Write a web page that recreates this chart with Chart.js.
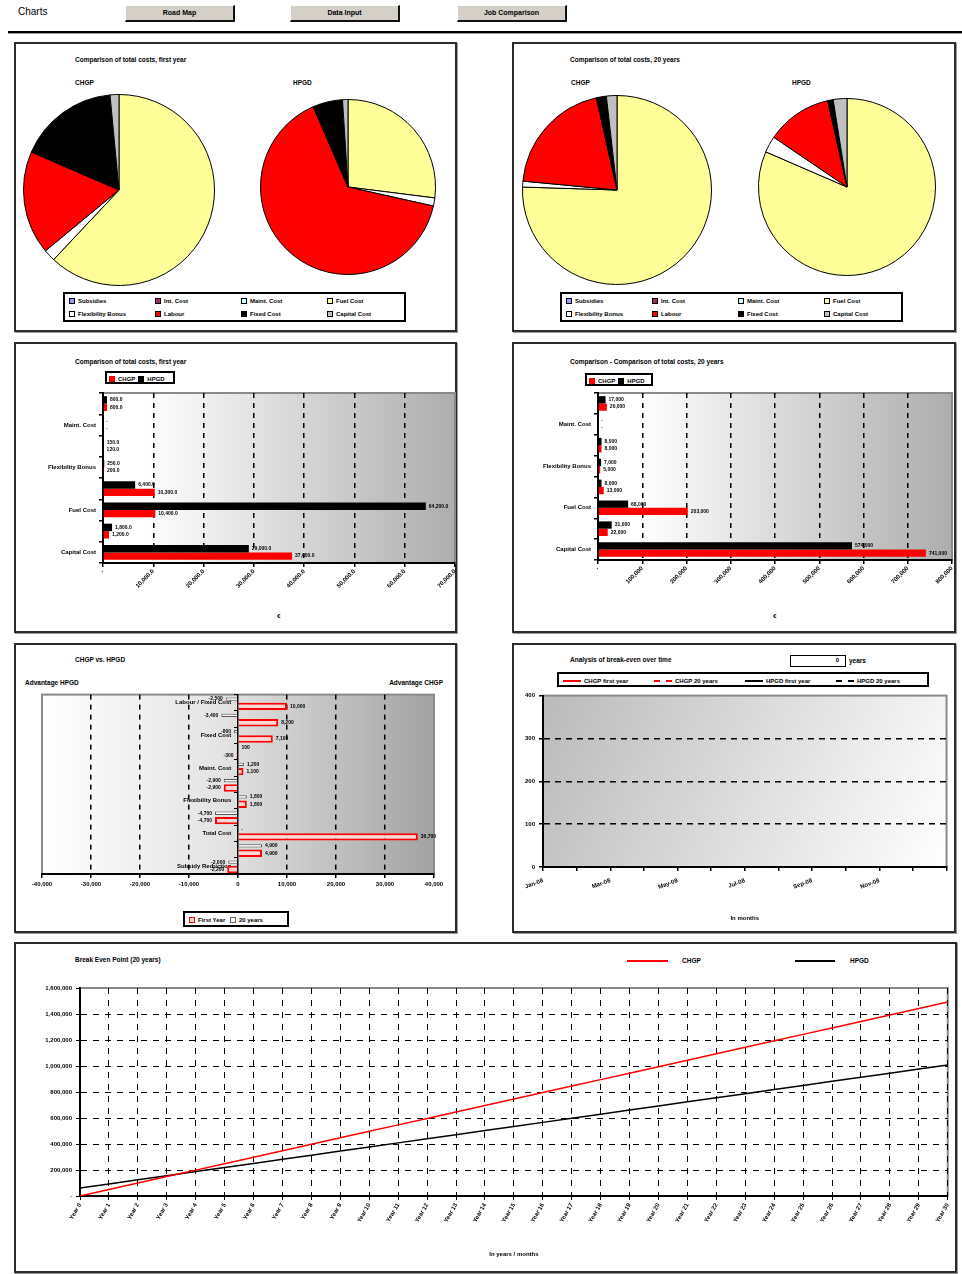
<!DOCTYPE html>
<html lang="en">
<head>
<meta charset="UTF-8">
<title>Charts</title>
<script src="https://cdn.jsdelivr.net/npm/chart.js"></script>
<style>
  body { margin: 0; background: #fff; font-family: "Liberation Sans", Arial, sans-serif; }
  #page { position: relative; width: 962px; height: 1274px; overflow: hidden; }
  .panel { position: absolute; box-sizing: border-box; border: 2px solid #2b2b2b; box-shadow: 1px 1px 0 #9a9a9a; background: #fff; }
  .btn { position: absolute; top: 5px; width: 110px; height: 17px; box-sizing: border-box; background: #d4d0c8;
         border: 1px solid #fff; border-right: 2px solid #111; border-bottom: 2px solid #111;
         font: bold 7px "Liberation Sans", Arial, sans-serif; text-align: center; line-height: 13px; }
  .txt { position: absolute; font: bold 6.5px "Liberation Sans", Arial, sans-serif; white-space: nowrap; line-height: 8px; }
  .box { position: absolute; box-sizing: border-box; border: 2px solid #000; background: #fff;
         font: bold 6px "Liberation Sans", Arial, sans-serif; white-space: nowrap; }
  .key { position: absolute; display: flex; align-items: center; gap: 3px; line-height: 8px; }
  .sw { width: 4px; height: 4px; border: 1px solid #000; }
  .ln { width: 18px; height: 0; border-top: 2px solid #000; }
  .dl { border-top-style: dashed; }
  canvas { position: absolute; }
</style>
</head>
<body>
<div id="page">
  <!-- toolbar -->
  <div style="position:absolute;left:18px;top:6px;font:10px 'Liberation Sans',Arial,sans-serif;">Charts</div>
  <div class="btn" style="left:125px;">Road Map</div>
  <div class="btn" style="left:290px;">Data Input</div>
  <div class="btn" style="left:457px;">Job Comparison</div>
  <div style="position:absolute;left:8px;top:31px;width:954px;height:2px;background:#000;"></div>
  <div style="position:absolute;left:8px;top:33px;width:954px;height:1px;background:#999;"></div>

  <!-- panels -->
  <div class="panel" style="left:14px;top:42px;width:443px;height:290px;"></div>
  <div class="panel" style="left:512px;top:42px;width:444px;height:290px;"></div>
  <div class="panel" style="left:14px;top:342px;width:443px;height:291px;"></div>
  <div class="panel" style="left:512px;top:342px;width:444px;height:291px;"></div>
  <div class="panel" style="left:14px;top:643px;width:443px;height:290px;"></div>
  <div class="panel" style="left:512px;top:643px;width:444px;height:290px;"></div>
  <div class="panel" style="left:14px;top:942px;width:943px;height:331px;"></div>

  <!-- pies, first year -->
  <div class="txt" style="left:75px;top:56px;">Comparison of total costs, first year</div>
  <div class="txt" style="left:75px;top:79px;">CHGP</div>
  <div class="txt" style="left:293px;top:79px;">HPGD</div>
  <canvas id="pieFirstA" width="200" height="200" style="left:19px;top:90px;"></canvas>
  <canvas id="pieFirstB" width="184" height="184" style="left:256px;top:95px;"></canvas>
  <div class="box" id="legFirst" style="left:63px;top:292px;width:343px;height:30px;"></div>

  <!-- pies, 20 years -->
  <div class="txt" style="left:570px;top:56px;">Comparison of total costs, 20 years</div>
  <div class="txt" style="left:571px;top:79px;">CHGP</div>
  <div class="txt" style="left:792px;top:79px;">HPGD</div>
  <canvas id="pieYearsA" width="198" height="198" style="left:518px;top:91px;"></canvas>
  <canvas id="pieYearsB" width="186" height="186" style="left:754px;top:94px;"></canvas>
  <div class="box" id="legYears" style="left:560px;top:292px;width:343px;height:30px;"></div>

  <!-- cost bars -->
  <div class="txt" style="left:75px;top:358px;">Comparison of total costs, first year</div>
  <div class="box" style="left:105px;top:371px;width:70px;height:13px;">
    <div class="key" style="left:2px;top:1.5px;"><div class="sw" style="background:#f00;border-color:#f00"></div>CHGP <div class="sw" style="background:#000"></div>HPGD</div>
  </div>
  <canvas id="barFirst" width="440" height="245" style="left:16px;top:385px;"></canvas>

  <div class="txt" style="left:570px;top:358px;">Comparison - Comparison of total costs, 20 years</div>
  <div class="box" style="left:585px;top:373px;width:68px;height:13px;">
    <div class="key" style="left:2px;top:1.5px;"><div class="sw" style="background:#f00;border-color:#f00"></div>CHGP <div class="sw" style="background:#000"></div>HPGD</div>
  </div>
  <canvas id="barYears" width="441" height="245" style="left:514px;top:385px;"></canvas>

  <!-- difference chart -->
  <div class="txt" style="left:75px;top:656px;">CHGP vs. HPGD</div>
  <div class="txt" style="left:25px;top:679px;">Advantage HPGD</div>
  <div class="txt" style="left:383px;top:679px;width:60px;text-align:right;">Advantage CHGP</div>
  <canvas id="diffChart" width="440" height="215" style="left:16px;top:688px;"></canvas>
  <div class="box" style="left:183px;top:911px;width:106px;height:16px;">
    <div class="key" style="left:4px;top:3px;"><div class="sw" style="background:#ffd6d6;border-color:#f00"></div>First Year&nbsp; <div class="sw" style="background:#fff;border-color:#666"></div>20 years</div>
  </div>

  <!-- trend chart -->
  <div class="txt" style="left:570px;top:656px;">Analysis of break-even over time</div>
  <div class="box" style="left:790px;top:655px;width:56px;height:12px;border-width:1.5px;text-align:right;padding-right:6px;line-height:9px;">0</div>
  <div class="txt" style="left:849px;top:657px;">years</div>
  <div class="box" id="legTrend" style="left:557px;top:672px;width:372px;height:15px;"></div>
  <canvas id="trendChart" width="441" height="240" style="left:514px;top:688px;"></canvas>

  <!-- break even -->
  <div class="txt" style="left:75px;top:956px;">Break Even Point (20 years)</div>
  <div style="position:absolute;left:627px;top:960px;width:41px;height:2px;background:#f00;"></div>
  <div class="txt" style="left:682px;top:957px;">CHGP</div>
  <div style="position:absolute;left:795px;top:960px;width:40px;height:2px;background:#000;"></div>
  <div class="txt" style="left:850px;top:957px;">HPGD</div>
  <canvas id="breakEven" width="940" height="292" style="left:16px;top:978px;"></canvas>
</div>

<script>
// cost items, pie shares in %
const costItems = ['Subsidies', 'Int. Cost', 'Maint. Cost', 'Fuel Cost', 'Flexibility Bonus', 'Labour', 'Fixed Cost', 'Capital Cost'];
const costColors = ['#9999ff', '#993366', '#ccffff', '#ffff99', '#ffffff', '#ff0000', '#000000', '#c0c0c0'];
const pieFirstChgp = [0, 0, 0, 62, 2, 17.5, 17, 1.5];
const pieFirstHpgd = [0, 0, 0, 27, 1.5, 65, 5.5, 1];
const pieYearsChgp = [0, 0, 0, 75.5, 1, 20, 1.7, 1.8];
const pieYearsHpgd = [0, 0, 0, 81.5, 3, 12, 1, 2.5];

// cost bars, top to bottom
const barItems = ['Subsidies', 'Maint. Cost', 'Labour', 'Flexibility Bonus', 'Int. Cost', 'Fuel Cost', 'Fixed Cost', 'Capital Cost'];
const firstHpgd = [800, 0, 150, 250, 6400, 64200, 1800, 29000];
const firstChgp = [800, 0, 120, 200, 10300, 10400, 1200, 37600];
const yearsHpgd = [17000, 0, 8000, 7000, 8000, 68000, 31000, 574000];
const yearsChgp = [20000, 0, 8000, 5000, 13000, 203000, 22000, 741000];

// CHGP minus HPGD
const diffItems = ['Labour / Fixed Cost', 'Subsidies', 'Fixed Cost', 'Int. Cost', 'Maint. Cost', 'Oil Cost',
  'Flexibility Bonus', 'Fuel Cost', 'Total Cost', 'Capital Cost', 'Subsidy Reduction'];
const diffYears = [-2500, -3400, -800, 100, 1200, -2900, 1800, -4700, 0, 4900, -2000];
const diffFirst = [10000, 8200, 7100, -300, 1100, -2900, 1800, -4700, 36700, 4900, -2200];

// trend over time (no values entered yet)
const trendMonths = ['Jan-08', 'Feb-08', 'Mar-08', 'Apr-08', 'May-08', 'Jun-08', 'Jul-08',
  'Aug-08', 'Sep-08', 'Oct-08', 'Nov-08', 'Dec-08', 'Jan-09'];
const trendChgpFirst = [];
const trendChgpYears = [];
const trendHpgdFirst = [];
const trendHpgdYears = [];

// cumulative cost
const beYears = ['Year 0', 'Year 1', 'Year 2', 'Year 3', 'Year 4', 'Year 5', 'Year 6', 'Year 7', 'Year 8',
  'Year 9', 'Year 10', 'Year 11', 'Year 12', 'Year 13', 'Year 14', 'Year 15', 'Year 16', 'Year 17',
  'Year 18', 'Year 19', 'Year 20', 'Year 21', 'Year 22', 'Year 23', 'Year 24', 'Year 25', 'Year 26',
  'Year 27', 'Year 28', 'Year 29', 'Year 30'];
const beChgp = [0, 49700, 99500, 149200, 198900, 248700, 298400, 348100, 397900, 447600, 497300,
  547100, 596800, 646500, 696300, 746000, 795700, 845500, 895200, 944900, 994700, 1044400,
  1094100, 1143900, 1193600, 1243300, 1293100, 1342800, 1392500, 1442300, 1492000];
const beHpgd = [61500, 93100, 124600, 156200, 187700, 219300, 250800, 282400, 313900, 345500, 377000,
  408600, 440100, 471700, 503200, 534800, 566300, 597900, 629400, 661000, 692500, 724100,
  755600, 787200, 818700, 850300, 881800, 913400, 944900, 976500, 1008000];

Chart.defaults.font.family = '"Liberation Sans", Arial, sans-serif';
Chart.defaults.font.size = 6;
Chart.defaults.font.weight = 'bold';
Chart.defaults.color = '#000';
Chart.defaults.animation = false;
Chart.defaults.events = [];
Chart.defaults.plugins.legend.display = false;
Chart.defaults.plugins.tooltip.enabled = false;

const fmt = {
  dec1: v => v === 0 ? '-' : v.toLocaleString('en-US', { minimumFractionDigits: 1, maximumFractionDigits: 1 }),
  int: v => v === 0 ? '-' : v.toLocaleString('en-US')
};

// gradient behind the plot area + grey frame
const plotBg = {
  id: 'plotBg',
  beforeDraw(chart, args, opts) {
    const { ctx, chartArea: a } = chart;
    const g = opts.diagonal
      ? ctx.createLinearGradient(a.left, a.top, a.right, a.bottom)
      : ctx.createLinearGradient(a.left, 0, a.right, 0);
    opts.stops.forEach(s => g.addColorStop(s[0], s[1]));
    ctx.save();
    ctx.fillStyle = g;
    ctx.fillRect(a.left, a.top, a.width, a.height);
    ctx.strokeStyle = '#8a8a8a';
    ctx.lineWidth = 2;
    ctx.strokeRect(a.left, a.top, a.width, a.height);
    ctx.restore();
  }
};

// value text at the end of every bar
const valueLabels = {
  id: 'valueLabels',
  afterDatasetsDraw(chart, args, opts) {
    const ctx = chart.ctx;
    const f = fmt[opts.fmt];
    ctx.save();
    ctx.font = 'bold 5px "Liberation Sans", Arial, sans-serif';
    ctx.fillStyle = '#000';
    ctx.textBaseline = 'middle';
    chart.data.datasets.forEach((ds, di) => {
      chart.getDatasetMeta(di).data.forEach((bar, i) => {
        const v = ds.data[i];
        const neg = v < 0;
        ctx.textAlign = neg ? 'right' : 'left';
        ctx.fillText(f(v), bar.x + (neg ? -3 : 3), bar.y);
      });
    });
    ctx.restore();
  }
};

function pieLegend(id) {
  const box = document.getElementById(id);
  costItems.forEach((name, i) => {
    const k = document.createElement('div');
    k.className = 'key';
    k.style.left = (4 + (i % 4) * 86) + 'px';
    k.style.top = (3 + Math.floor(i / 4) * 13) + 'px';
    k.innerHTML = `<div class="sw" style="background:${costColors[i]}"></div>${name}`;
    box.appendChild(k);
  });
}

function pie(id, values) {
  new Chart(document.getElementById(id), {
    type: 'pie',
    data: { labels: costItems, datasets: [{ data: values, backgroundColor: costColors, borderColor: '#000', borderWidth: 1 }] },
    options: { responsive: false, layout: { padding: 4 } }
  });
}

function costBars(id, hp, ch, max, step, key, box) {
  new Chart(document.getElementById(id), {
    type: 'bar',
    data: {
      labels: barItems,
      datasets: [
        { label: 'HPGD', data: hp, backgroundColor: '#000', categoryPercentage: 0.7, barPercentage: 1 },
        { label: 'CHGP', data: ch, backgroundColor: '#ff0000', categoryPercentage: 0.7, barPercentage: 1 }
      ]
    },
    options: {
      indexAxis: 'y',
      responsive: false,
      layout: { padding: { top: box.top, right: box.right, left: 0, bottom: 0 } },
      scales: {
        x: {
          min: 0, max: max,
          ticks: { stepSize: step, autoSkip: false, minRotation: 45, maxRotation: 45, padding: 1, callback: v => fmt[key](v) },
          grid: {
            color: c => (c.tick && c.tick.value > 0 && c.tick.value < max) ? '#000' : 'rgba(0,0,0,0)',
            lineWidth: 1.5, tickColor: '#000', tickLength: 4, tickWidth: 1.5
          },
          border: { color: '#000', width: 2, dash: [5, 5] },
          title: { display: true, text: '€', padding: { top: 0, bottom: 10 } },
          afterFit: s => { s.height = box.xh; s.paddingRight = 0; }
        },
        y: {
          ticks: { autoSkip: false, padding: 3, callback: (v, i) => i % 2 ? barItems[i] : '' },
          grid: { offset: true, drawOnChartArea: false, color: '#000', tickLength: 4, lineWidth: 1.5 },
          border: { color: '#000', width: 2 },
          afterFit: s => { s.width = box.yw; }
        }
      },
      plugins: {
        plotBg: { stops: [[0, '#ffffff'], [0.12, '#ffffff'], [1, '#adadad']] },
        valueLabels: { fmt: key }
      }
    },
    plugins: [plotBg, valueLabels]
  });
}

pieLegend('legFirst');
pieLegend('legYears');
pie('pieFirstA', pieFirstChgp);
pie('pieFirstB', pieFirstHpgd);
pie('pieYearsA', pieYearsChgp);
pie('pieYearsB', pieYearsHpgd);

costBars('barFirst', firstHpgd, firstChgp, 70000, 10000, 'dec1', { top: 8, right: 1, yw: 87, xh: 67 });
costBars('barYears', yearsHpgd, yearsChgp, 800000, 100000, 'int', { top: 8, right: 3, yw: 84, xh: 70 });

// advantage chart, categories hang on the zero line
new Chart(document.getElementById('diffChart'), {
  type: 'bar',
  data: {
    labels: diffItems,
    datasets: [
      { label: '20 years', data: diffYears, backgroundColor: '#ffffff', borderColor: '#555', borderWidth: 1,
        categoryPercentage: 0.9, barPercentage: 0.45 },
      { label: 'First Year', data: diffFirst, backgroundColor: '#ffd6d6', borderColor: '#ff0000', borderWidth: 2,
        categoryPercentage: 0.9, barPercentage: 1 }
    ]
  },
  options: {
    indexAxis: 'y',
    responsive: false,
    layout: { padding: { top: 5, left: 26, right: 22, bottom: 0 } },
    scales: {
      x: {
        min: -40000, max: 40000,
        ticks: { stepSize: 10000, maxRotation: 0, autoSkip: false, callback: v => v.toLocaleString('en-US') },
        grid: {
          color: c => (c.tick && Math.abs(c.tick.value) < 40000 && c.tick.value !== 0) ? '#000' : 'rgba(0,0,0,0)',
          lineWidth: 1.5, tickColor: '#000', tickLength: 4
        },
        border: { color: '#000', width: 2, dash: [5, 5] },
        afterFit: s => { s.height = 29; }
      },
      y: {
        position: { x: 0 },
        ticks: { autoSkip: false, callback: (v, i) => i % 2 === 0 ? diffItems[i] + '    ' : '' },
        grid: { offset: true, drawOnChartArea: false, color: '#000', tickLength: 3 },
        border: { color: '#000', width: 1.5 },
        afterFit: s => { s.width = 0; }
      }
    },
    plugins: {
      plotBg: { stops: [[0, '#ffffff'], [0.45, '#e4e4e4'], [1, '#a2a2a2']] },
      valueLabels: { fmt: 'int' }
    }
  },
  plugins: [plotBg, valueLabels]
});

// trend legend
const trendSets = [
  { label: 'CHGP first year', color: '#f00', dash: [] },
  { label: 'CHGP 20 years', color: '#f00', dash: [4, 3] },
  { label: 'HPGD first year', color: '#000', dash: [] },
  { label: 'HPGD 20 years', color: '#000', dash: [4, 3] }
];
const legTrend = document.getElementById('legTrend');
trendSets.forEach((t, i) => {
  const k = document.createElement('div');
  k.className = 'key';
  k.style.left = (4 + i * 91) + 'px';
  k.style.top = '2.5px';
  k.innerHTML = `<div class="ln${t.dash.length ? ' dl' : ''}" style="border-color:${t.color}"></div>${t.label}`;
  legTrend.appendChild(k);
});

new Chart(document.getElementById('trendChart'), {
  type: 'line',
  data: {
    labels: trendMonths,
    datasets: [trendChgpFirst, trendChgpYears, trendHpgdFirst, trendHpgdYears].map((d, i) => ({
      label: trendSets[i].label, data: d, borderColor: trendSets[i].color, borderDash: trendSets[i].dash,
      borderWidth: 1.5, pointRadius: 0
    }))
  },
  options: {
    responsive: false,
    layout: { padding: { top: 6, right: 3, left: 0, bottom: 0 } },
    scales: {
      x: {
        ticks: { autoSkip: false, minRotation: 20, maxRotation: 20, padding: 6, callback: (v, i) => (i % 2 === 0 && i < 12) ? trendMonths[i] : '' },
        grid: { drawOnChartArea: false, color: '#000', tickLength: 4, lineWidth: 1.5 },
        border: { color: '#000', width: 2 },
        title: { display: true, text: 'In months', padding: { top: 0, bottom: 6 } },
        afterFit: s => { s.height = 61; }
      },
      y: {
        min: 0, max: 400,
        ticks: { stepSize: 100, padding: 4 },
        grid: {
          color: c => (c.tick && c.tick.value > 0 && c.tick.value < 400) ? '#000' : 'rgba(0,0,0,0)',
          lineWidth: 1.5, tickColor: '#000', tickLength: 4
        },
        border: { color: '#000', width: 2, dash: [6, 5] },
        afterFit: s => { s.width = 29; }
      }
    },
    plugins: {
      plotBg: { diagonal: true, stops: [[0, '#bababa'], [1, '#ffffff']] }
    }
  },
  plugins: [plotBg]
});

new Chart(document.getElementById('breakEven'), {
  type: 'line',
  data: {
    labels: beYears,
    datasets: [
      { label: 'CHGP', data: beChgp, borderColor: '#ff0000', borderWidth: 1.5, pointRadius: 0 },
      { label: 'HPGD', data: beHpgd, borderColor: '#000000', borderWidth: 1.5, pointRadius: 0 }
    ]
  },
  options: {
    responsive: false,
    layout: { padding: { top: 10, right: 8, left: 0, bottom: 0 } },
    scales: {
      x: {
        ticks: { autoSkip: false, minRotation: 60, maxRotation: 60, padding: 2 },
        grid: { color: c => c.index === 0 ? 'rgba(0,0,0,0)' : '#000', lineWidth: 1, tickColor: '#000', tickLength: 4 },
        border: { color: '#000', width: 2, dash: [6, 6] },
        title: { display: true, text: 'In years / months', padding: { top: 0, bottom: 12 } },
        afterFit: s => { s.height = 74; }
      },
      y: {
        min: 0, max: 1600000,
        ticks: { stepSize: 200000, padding: 4, callback: v => fmt.int(v) },
        grid: {
          color: c => (c.tick && c.tick.value > 0 && c.tick.value < 1600000) ? '#000' : 'rgba(0,0,0,0)',
          lineWidth: 1, tickColor: '#000', tickLength: 4
        },
        border: { color: '#000', width: 2, dash: [6, 6] },
        afterFit: s => { s.width = 64; }
      }
    },
    plugins: {
      plotBg: { stops: [[0, '#ffffff'], [1, '#ffffff']] }
    }
  },
  plugins: [plotBg]
});
</script>
</body>
</html>
